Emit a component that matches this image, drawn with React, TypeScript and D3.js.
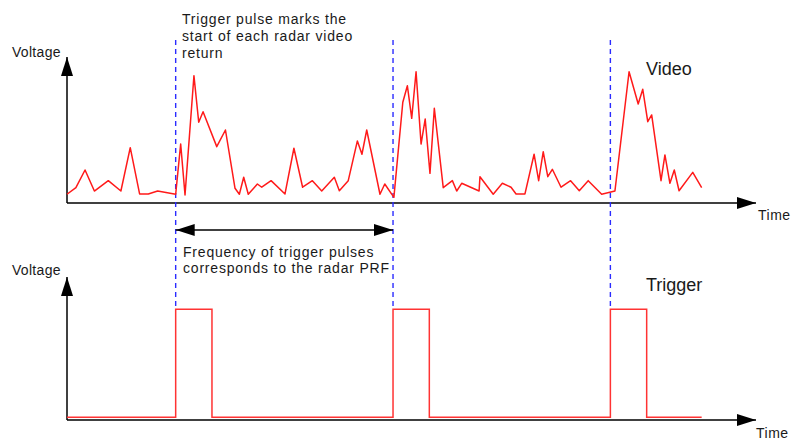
import React, { useEffect, useRef } from 'react';
import * as d3 from 'd3';

// time in units where one PRF period = 100
const videoTime = [0, 4.1, 8.3, 12.6, 19, 24.8, 29.1, 33.4, 37.4, 41.7, 50, 52.3, 54.3, 58.4, 60.6, 62.6, 68.9, 72.9,
  77.3, 79.3, 81.3, 83.4, 87.6, 89.6, 93.9, 100.3, 104.4, 108.4, 112.9, 117.2, 123, 125.3, 129.4, 133.6, 135.7, 137.9,
  144, 146.2, 150.4, 154.5, 156.6, 158.6, 160.6, 162.9, 164.8, 167, 169, 173.1, 177.3, 179.3, 181.6, 189.6, 190,
  196.1, 200.3, 204.3, 206.6, 210.7, 214.9, 217, 219.1, 221.2, 223.3, 227.3, 231.7, 235.7, 239.8, 246, 252.1, 258.6,
  262.8, 264.9, 267.2, 269, 273.3, 275.1, 277.4, 279.4, 281.6, 287.9, 292];
const videoVolt = [6, 10.5, 22.6, 8.2, 15.3, 8.2, 37.9, 6.2, 6.2, 8.2, 6, 40.4, 5.5, 87.2, 55.3, 62.5, 38.6, 50,
  10.1, 6, 17.6, 6, 13, 10.8, 15.3, 6.2, 37.5, 10.8, 15.3, 8.2, 17.6, 8.4, 15.3, 42.5, 33.4, 50,
  6, 13, 3.9, 69, 80.3, 58, 89.9, 40.4, 57.5, 20.3, 64.9, 10.5, 15.3, 8.2, 13.5, 8.2, 18,
  6, 13.5, 10.8, 6.2, 6.2, 33.4, 15.3, 35.1, 18, 23.1, 10.8, 15.3, 8.4, 15.3, 6, 8.2, 89.9,
  67.8, 77.9, 55.7, 60.3, 15.3, 32.9, 13.5, 22.6, 8.4, 21, 10.5];

const triggerTime = [0, 50, 66.7, 150, 166.7, 250, 266.7, 292];
const triggerLevel = [2, 77.4, 2, 77.4, 2, 77.4, 2, 2];
const triggerMarks = [50, 150, 250];

const topNote = ['Trigger pulse marks the', 'start of each radar video', 'return'];
const prfNote = ['Frequency of trigger pulses', 'corresponds to the radar PRF'];

const W = 803, H = 440;
const font = '"Liberation Sans", Arial, sans-serif';

function Diagram() {
  const ref = useRef<SVGSVGElement>(null);

  useEffect(() => {
    const svg = d3.select(ref.current);
    svg.selectAll('*').remove();

    const x = d3.scaleLinear().domain([0, 317]).range([67, 756]);
    const yV = d3.scaleLinear().domain([0, 100]).range([203, 57]);
    const yT = d3.scaleLinear().domain([0, 100]).range([420, 277]);

    const defs = svg.append('defs');
    defs.append('marker')
      .attr('id', 'arr')
      .attr('markerUnits', 'userSpaceOnUse')
      .attr('viewBox', '0 -7 19 14')
      .attr('refX', 19).attr('refY', 0)
      .attr('markerWidth', 19).attr('markerHeight', 14)
      .attr('orient', 'auto-start-reverse')
      .append('path')
      .attr('d', 'M0,-6L19,0L0,6Z')
      .attr('fill', '#000');

    const line = d3.line<[number, number]>();

    // axes
    [[yV, 203], [yT, 420]].forEach(([ys, by]: any) => {
      svg.append('path')
        .attr('d', line([[x(0), by], [x(0), ys(100)]]))
        .attr('stroke', '#000').attr('stroke-width', 1.5).attr('fill', 'none')
        .attr('marker-end', 'url(#arr)');
      svg.append('path')
        .attr('d', line([[x(0), by], [x(317), by]]))
        .attr('stroke', '#000').attr('stroke-width', 1.5).attr('fill', 'none')
        .attr('marker-end', 'url(#arr)');
    });

    // trigger marks
    svg.selectAll('line.mark')
      .data(triggerMarks)
      .enter()
      .append('line')
      .attr('class', 'mark')
      .attr('x1', d => x(d)).attr('x2', d => x(d))
      .attr('y1', 40).attr('y2', yT(77.4))
      .attr('stroke', '#2b2bff').attr('stroke-width', 1.4)
      .attr('stroke-dasharray', '5,4');

    // video
    const vLine = d3.line<number>()
      .x((d, i) => x(videoTime[i]))
      .y(d => yV(d));
    svg.append('path')
      .attr('d', vLine(videoVolt))
      .attr('fill', 'none').attr('stroke', '#ff1a1a').attr('stroke-width', 1.5)
      .attr('stroke-linejoin', 'round');

    // trigger
    const tLine = d3.line<number>()
      .x((d, i) => x(triggerTime[i]))
      .y(d => yT(d))
      .curve(d3.curveStepAfter);
    svg.append('path')
      .attr('d', tLine(triggerLevel))
      .attr('fill', 'none').attr('stroke', '#ff3333').attr('stroke-width', 1.5);

    // PRF double arrow
    svg.append('path')
      .attr('d', line([[x(50), 230], [x(150), 230]]))
      .attr('stroke', '#000').attr('stroke-width', 1.5)
      .attr('marker-start', 'url(#arr)').attr('marker-end', 'url(#arr)');

    const txt = (s: string, tx: number, ty: number, size: number, ls: number) =>
      svg.append('text')
        .text(s)
        .attr('x', tx).attr('y', ty)
        .attr('font-family', font)
        .attr('font-size', size)
        .attr('letter-spacing', ls)
        .attr('fill', '#1a1a1a');

    txt('Voltage', 12, 57, 14, 0.3);
    txt('Voltage', 12, 275, 14, 0.3);
    txt('Time', 758, 220, 14, 0.5);
    txt('Time', 756, 438, 14, 0.5);
    txt('Video', 646, 75, 18, 0);
    txt('Trigger', 646, 291, 18, 0);

    topNote.forEach((s, i) => txt(s, 182, 23.5 + i * 17, 14, 0.8));
    prfNote.forEach((s, i) => txt(s, 183, 257 + i * 16, 14, 0.8));
  }, []);

  return <svg ref={ref} width={W} height={H}
              style={{ position: 'absolute', left: 0, top: 0, background: '#fff' }} />;
}

export default function App() {
  return <Diagram />;
}
